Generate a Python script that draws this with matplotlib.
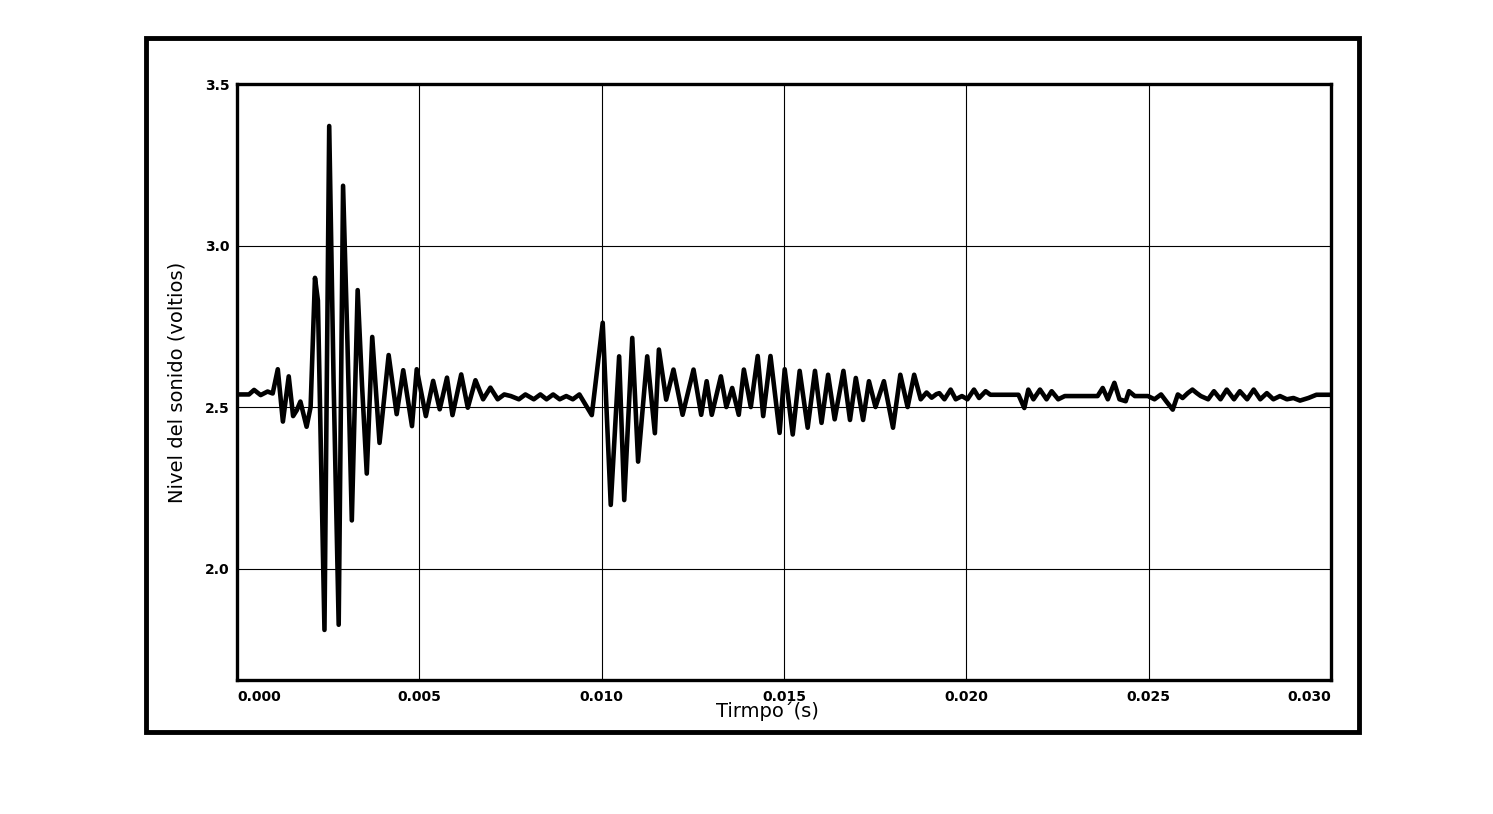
import numpy as np
import matplotlib
matplotlib.use("Agg")
import matplotlib.pyplot as plt
from matplotlib.patches import Rectangle
from matplotlib.ticker import FormatStrFormatter

# --- data (time in ms, level in volts) ---
time_ms = [
    0.00, 0.33, 0.47, 0.65, 0.84, 0.98, 1.12, 1.26, 1.42, 1.54, 1.64, 1.74, 1.91, 2.02,
    2.14, 2.22, 2.40, 2.53, 2.65, 2.79, 2.91, 3.03, 3.15, 3.31, 3.43, 3.56, 3.71, 3.91,
    4.16, 4.38, 4.56, 4.80, 4.93, 5.18, 5.38, 5.56, 5.76, 5.91, 6.15, 6.33, 6.54, 6.75,
    6.95, 7.15, 7.33, 7.51, 7.73, 7.91, 8.14, 8.32, 8.49, 8.67, 8.85, 9.03, 9.21, 9.39,
    9.73, 10.03, 10.25, 10.48, 10.62, 10.84, 11.00, 11.25, 11.46, 11.57, 11.77, 11.97,
    12.22, 12.52, 12.73, 12.88, 13.02, 13.27, 13.42, 13.58, 13.76, 13.90, 14.09, 14.28,
    14.43, 14.63, 14.88, 15.02, 15.24, 15.43, 15.65, 15.85, 16.03, 16.21, 16.39, 16.63,
    16.81, 16.97, 17.17, 17.33, 17.51, 17.74, 17.99, 18.19, 18.39, 18.57, 18.75, 18.91,
    19.05, 19.18, 19.26, 19.40, 19.57, 19.71, 19.88, 20.03, 20.21, 20.35, 20.53, 20.66,
    21.43, 21.59, 21.70, 21.84, 22.02, 22.20, 22.34, 22.52, 22.70, 23.60, 23.74, 23.88,
    24.06, 24.20, 24.37, 24.46, 24.62, 24.98, 25.16, 25.34, 25.48, 25.66, 25.80, 25.93,
    26.07, 26.20, 26.32, 26.43, 26.63, 26.79, 26.97, 27.14, 27.34, 27.50, 27.70, 27.88,
    28.06, 28.24, 28.42, 28.60, 28.79, 28.97, 29.15, 29.38, 29.60, 30.00,
]
level_v = [
    2.539, 2.539, 2.553, 2.537, 2.548, 2.542, 2.617, 2.455, 2.595, 2.472, 2.490, 2.517, 2.439, 2.500,
    2.900, 2.830, 1.810, 3.370, 2.580, 1.826, 3.185, 2.700, 2.149, 2.862, 2.567, 2.294, 2.717, 2.389,
    2.661, 2.478, 2.614, 2.441, 2.617, 2.472, 2.581, 2.493, 2.591, 2.475, 2.601, 2.498, 2.583, 2.524,
    2.560, 2.524, 2.539, 2.534, 2.524, 2.539, 2.524, 2.539, 2.524, 2.539, 2.524, 2.534, 2.524, 2.539,
    2.475, 2.761, 2.197, 2.657, 2.212, 2.714, 2.331, 2.657, 2.419, 2.678, 2.523, 2.616,
    2.476, 2.616, 2.476, 2.580, 2.476, 2.595, 2.500, 2.559, 2.476, 2.616, 2.500, 2.658,
    2.472, 2.658, 2.420, 2.617, 2.415, 2.612, 2.436, 2.612, 2.451, 2.600, 2.462, 2.612,
    2.460, 2.590, 2.460, 2.580, 2.500, 2.580, 2.436, 2.600, 2.500, 2.600, 2.524, 2.545,
    2.529, 2.540, 2.543, 2.524, 2.554, 2.524, 2.534, 2.524, 2.554, 2.528, 2.549, 2.538,
    2.538, 2.497, 2.554, 2.524, 2.554, 2.524, 2.549, 2.524, 2.534, 2.534, 2.559, 2.524,
    2.575, 2.524, 2.518, 2.549, 2.534, 2.534, 2.524, 2.539, 2.518, 2.492, 2.539, 2.528,
    2.543, 2.554, 2.543, 2.534, 2.524, 2.549, 2.524, 2.554, 2.524, 2.549, 2.524, 2.554,
    2.524, 2.543, 2.524, 2.534, 2.524, 2.528, 2.520, 2.528, 2.538, 2.538,
]
x_ticks = [0.000, 0.005, 0.010, 0.015, 0.020, 0.025, 0.030]
y_ticks = [2.0, 2.5, 3.0, 3.5]
x_label = "Tirmpo\u00b4(s)"
y_label = "Nivel del sonido (voltios)"

time_s = np.array(time_ms) / 1000.0

fig = plt.figure(figsize=(14.93, 8.14), dpi=100)
fig.patch.set_facecolor("white")

# outer frame
fig.patches.append(Rectangle((0.0978, 0.1007), 0.9102 - 0.0978, 0.9533 - 0.1007,
                             transform=fig.transFigure, fill=False,
                             edgecolor="black", linewidth=3.5, zorder=0))

ax = fig.add_axes([0.1587, 0.1646, 0.7328, 0.7322])
ax.plot(time_s, level_v, color="black", linewidth=3.3,
        solid_joinstyle="round", solid_capstyle="round", zorder=3)

ax.set_xlim(0.0, 0.030)
ax.set_ylim(1.655, 3.5)
ax.set_xticks(x_ticks)
ax.set_yticks(y_ticks)
ax.xaxis.set_major_formatter(FormatStrFormatter("%.3f"))
ax.yaxis.set_major_formatter(FormatStrFormatter("%.1f"))
ax.grid(True, color="black", linewidth=0.8)
ax.tick_params(axis="both", length=0, labelsize=10)
ax.tick_params(axis="x", pad=7)
ax.tick_params(axis="y", pad=5)
for lab in ax.get_xticklabels() + ax.get_yticklabels():
    lab.set_fontweight("bold")
xl = ax.get_xticklabels()
xl[0].set_horizontalalignment("left")
xl[-1].set_horizontalalignment("right")

for sp in ax.spines.values():
    sp.set_linewidth(2.4)
    sp.set_color("black")

ax.set_xlabel(x_label, fontsize=14)
ax.set_ylabel(y_label, fontsize=14)
ax.xaxis.set_label_coords(0.485, -0.036)
ax.yaxis.set_label_coords(-0.046, 0.5)

fig.savefig("out.png", dpi=100, facecolor="white")
